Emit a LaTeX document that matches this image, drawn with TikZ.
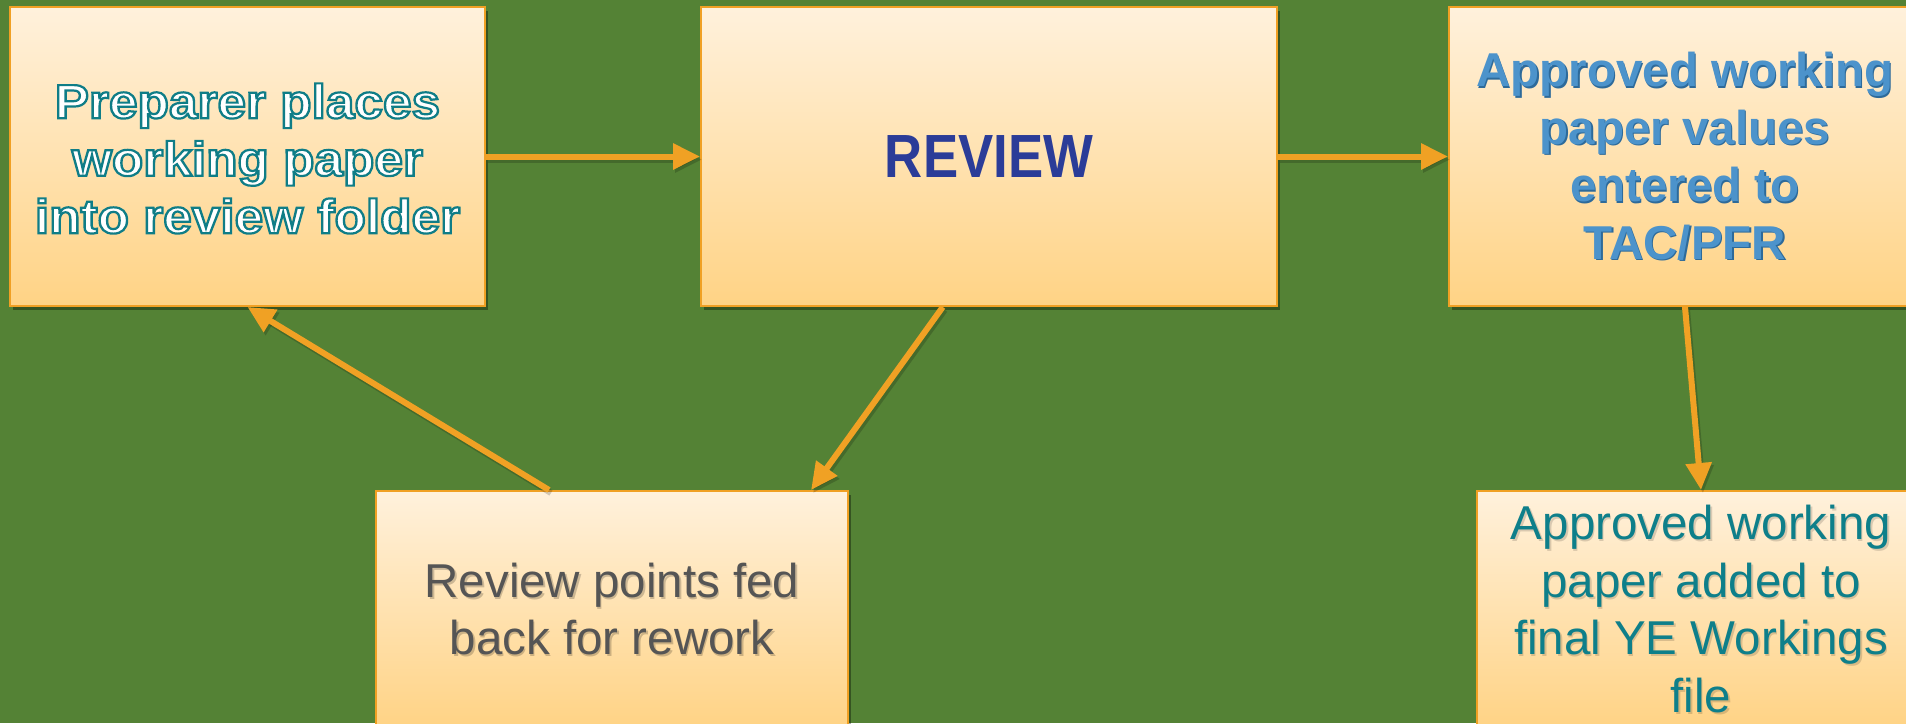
\documentclass[tikz,border=0pt]{standalone}
\usepackage{fontspec}
\setmainfont{Liberation Sans}
\usepackage{graphicx}
\usetikzlibrary{arrows.meta,shadows,calc}

\definecolor{bg}{HTML}{548235}
\definecolor{boxtop}{HTML}{FFF1DC}
\definecolor{boxbot}{HTML}{FFD385}
\definecolor{boxline}{HTML}{F0A024}
\definecolor{arrowc}{HTML}{F0A124}
\definecolor{reviewblue}{HTML}{2B3C98}
\definecolor{steel}{HTML}{4C93CB}
\definecolor{steeldark}{HTML}{2D6A9A}
\definecolor{greytext}{HTML}{555555}
\definecolor{tealtext}{HTML}{0E7F8A}

% white letters with a teal stroked outline (PDF text render mode 2)
\newcommand{\outlined}[1]{\scalebox{1.07}[1]{\color{white}\special{pdf:literal direct 2 Tr 1.1 w 0.06 0.49 0.53 RG}#1\special{pdf:literal direct 0 Tr}}}

\tikzset{
  stepbox/.style={
    draw=boxline, line width=1pt,
    top color=boxtop, bottom color=boxbot,
    inner sep=0pt,
    drop shadow={shadow xshift=1.5pt, shadow yshift=-2pt, fill=black, opacity=0.35}
  },
  bodytext/.style={
    align=center, inner sep=0pt,
    font=\fontsize{23.75pt}{28.75pt}\selectfont
  },
  flow/.style={
    draw=arrowc, line width=3pt,
    -{Triangle[length=13.5pt,width=12.5pt]},
    preaction={draw=black, opacity=0.18, line width=3pt, transform canvas={shift={(1pt,-1.5pt)}}, -{Triangle[length=13.5pt,width=12.5pt]}}
  }
}

\begin{document}
\begin{tikzpicture}[x=0.5pt,y=-0.5pt]
  \useasboundingbox (0,0) rectangle (1906,723);
  \clip (0,0) rectangle (1906,723);
  \fill[bg] (0,0) rectangle (1906,723);

  % process boxes
  \node[stepbox, minimum width=237.5pt, minimum height=149.5pt] (A) at (247.5,156.5) {};
  \node[stepbox, minimum width=288pt, minimum height=149.5pt] (B) at (989,156.5) {};
  \node[stepbox, minimum width=236pt, minimum height=149.5pt] (C) at (1685,156.5) {};
  \node[stepbox, minimum width=236pt, minimum height=118pt] (D) at (612,609) {};
  \node[stepbox, minimum width=224pt, minimum height=118pt] (E) at (1701,609) {};

  % box texts
  \node[bodytext, font=\fontsize{24pt}{28.75pt}\selectfont\bfseries, text=white] (At) at ($(A.center)+(0,2)$)
    {\outlined{Preparer places}\\\outlined{working paper}\\\outlined{into review folder}};

  \node[inner sep=0pt, text=reviewblue, font=\fontsize{30.5pt}{36pt}\selectfont\bfseries] (Bt) at (B.center)
    {\scalebox{0.865}[1]{REVIEW}};

  \node[bodytext, font=\fontsize{23.75pt}{28.75pt}\selectfont\bfseries, text=steeldark] (Cs) at ($(C.center)+(1.2,1.4)$)
    {Approved working\\paper values\\entered to\\TAC/PFR};
  \node[bodytext, font=\fontsize{23.75pt}{28.75pt}\selectfont\bfseries, text=steel] (Ct) at (C.center)
    {Approved working\\paper values\\entered to\\TAC/PFR};

  \node[bodytext, text=black, opacity=0.2] (Ds) at ($(D.center)+(1.5,2)$)
    {Review points fed\\back for rework};
  \node[bodytext, text=greytext] (Dt) at (D.center)
    {Review points fed\\back for rework};

  \node[bodytext, text=black, opacity=0.15] (Es) at ($(E.center)+(1.5,2)$)
    {Approved working\\paper added to\\final YE Workings\\file};
  \node[bodytext, text=tealtext] (Et) at (E.center)
    {Approved working\\paper added to\\final YE Workings\\file};

  % connectors
  \draw[flow] (A.east) -- (B.west);
  \draw[flow] (B.east) -- (C.west);
  \draw[flow] ($(B.south west)!0.42!(B.south east)$) -- ($(D.north west)!0.92!(D.north east)$);
  \draw[flow] ($(D.north west)!0.367!(D.north east)$) -- (A.south);
  \draw[flow] (C.south) -- (E.north);
\end{tikzpicture}
\end{document}
